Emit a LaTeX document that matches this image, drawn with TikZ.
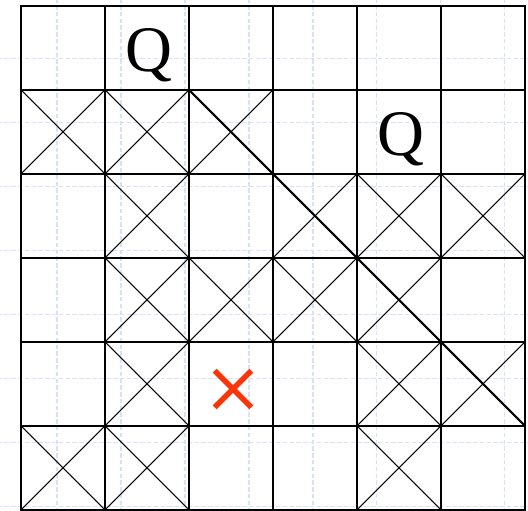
\documentclass[tikz,border=0pt]{standalone}
\usepackage{fontspec}
\setmainfont{Liberation Serif}
\usepackage{tikz}
\usetikzlibrary{shapes.misc}
\definecolor{paperline}{RGB}{218,224,250}
\definecolor{markred}{RGB}{252,52,8}
\tikzset{
  paper/.style={draw=paperline, line width=0.35pt, dash pattern=on 1.5pt off 0.8pt},
  cell/.style={rectangle, draw=black, line width=0.45pt, minimum size=1cm,
               inner sep=0pt, outer sep=0pt},
  hit/.style={black, line width=0.35pt},
  diagline/.style={black, line width=0.7pt},
  queen/.style={font=\fontsize{22}{22}\selectfont, inner sep=0pt, anchor=base},
  blocked/.style={cross out, draw=markred, line width=1.9pt, minimum size=0.37cm,
                  inner sep=0pt},
}

\begin{document}
\begin{tikzpicture}
  \useasboundingbox (-0.25,-0.012) rectangle (6.036,6.071);
  % graph paper
  \begin{scope}
    \clip (-0.25,-0.012) rectangle (6.036,6.071);
    \draw[paper, shift={(0.4286,0.0357)}] (-2,-2) grid[step=0.7619] (7,7);
  \end{scope}
  % board
  \foreach \c in {1,...,6}
    \foreach \r in {1,...,6}
      \node[cell] (c-\c-\r) at (\c-0.5,6.5-\r) {};
  % attacked squares
  \foreach \c/\r in {1/2,2/2,3/2,2/3,4/3,5/3,6/3,2/4,3/4,4/4,5/4,2/5,5/5,6/5,1/6,2/6,5/6}
    \draw[hit] (c-\c-\r.north west) -- (c-\c-\r.south east)
               (c-\c-\r.north east) -- (c-\c-\r.south west);
  \draw[diagline] (c-3-2.north west) -- (c-6-5.south east);
  \node[queen] (q1) at ([xshift=0.02cm,yshift=-0.285cm]c-2-1.center) {Q};
  \node[queen] (q2) at ([xshift=0.02cm,yshift=-0.285cm]c-5-2.center) {Q};
  \node[blocked] (x) at (2.524,1.440) {};
\end{tikzpicture}
\end{document}
